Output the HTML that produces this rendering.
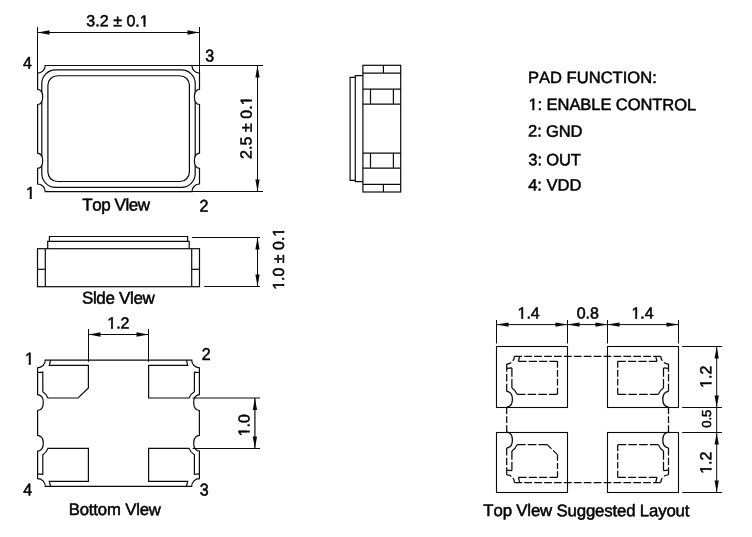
<!DOCTYPE html>
<html lang="en">
<head>
<meta charset="utf-8">
<title>Package Outline Drawing</title>
<style>
html,body{margin:0;padding:0;background:#fff;}
body{width:752px;height:537px;overflow:hidden;}
svg{display:block;will-change:transform;filter:grayscale(1);}
svg text{font-family:"Liberation Sans",Arial,Helvetica,sans-serif;font-kerning:none;text-rendering:geometricPrecision;fill:#000;stroke:#000;stroke-width:0.5px;stroke-linejoin:round;white-space:pre;}
</style>
</head>
<body>
<svg width="752" height="537" viewBox="0 0 752 537" stroke="#0a0a0a" fill="none" stroke-linecap="butt" stroke-linejoin="miter">
<rect x="0" y="0" width="752" height="537" fill="#fff" stroke="none"/>
<g id="top-view">
<rect x="41.8" y="69.8" width="153.4" height="117.6" rx="13.8" ry="13.8" fill="none" stroke-width="1.2"/>
<rect x="47.9" y="75.75" width="141.5" height="105.75" rx="9.5" ry="9.5" fill="none" stroke-width="1.2"/>
<path d="M36.6,89.3 L37.6,89.3 C42.19,89.8 42.7,93.1 42.7,96.9 C42.7,100.7 42.19,104 37.6,104.5 L36.6,104.5 Z" fill="#fff" stroke="none"/>
<path d="M200.5,89.3 L199.5,89.3 C194.91,89.8 194.4,93.1 194.4,96.9 C194.4,100.7 194.91,104 199.5,104.5 L200.5,104.5 Z" fill="#fff" stroke="none"/>
<path d="M36.6,153.2 L37.6,153.2 C42.19,153.7 42.7,157 42.7,160.8 C42.7,164.6 42.19,167.9 37.6,168.4 L36.6,168.4 Z" fill="#fff" stroke="none"/>
<path d="M200.5,153.2 L199.5,153.2 C194.91,153.7 194.4,157 194.4,160.8 C194.4,164.6 194.91,167.9 199.5,168.4 L200.5,168.4 Z" fill="#fff" stroke="none"/>
<path d="M45.2,65.5 L191.9,65.5 A7.6,7.6 0 0 0 199.5,73.1 L199.5,89.3 C194.91,89.8 194.4,93.1 194.4,96.9 C194.4,100.7 194.91,104 199.5,104.5 L199.5,153.2 C194.91,153.7 194.4,157 194.4,160.8 C194.4,164.6 194.91,167.9 199.5,168.4 L199.5,184 A7.6,7.6 0 0 0 191.9,191.6 L45.2,191.6 A7.6,7.6 0 0 0 37.6,184 L37.6,168.4 C42.19,167.9 42.7,164.6 42.7,160.8 C42.7,157 42.19,153.7 37.6,153.2 L37.6,104.5 C42.19,104 42.7,100.7 42.7,96.9 C42.7,93.1 42.19,89.8 37.6,89.3 L37.6,73.1 A7.6,7.6 0 0 0 45.2,65.5 Z" stroke-width="1.2" fill="none" />
<line x1="37.5" y1="27" x2="37.5" y2="73.1" stroke-width="1.0" />
<line x1="199.5" y1="27" x2="199.5" y2="73.1" stroke-width="1.0" />
<line x1="37.5" y1="32.5" x2="199.5" y2="32.5" stroke-width="1.0" />
<polygon points="37.5,32.5 49.5,30.35 49.5,34.65" fill="#0a0a0a" stroke="none"/>
<polygon points="199.5,32.5 187.5,30.35 187.5,34.65" fill="#0a0a0a" stroke="none"/>
<line x1="191.9" y1="65.5" x2="263" y2="65.5" stroke-width="1.0" />
<line x1="191.9" y1="191.5" x2="263" y2="191.5" stroke-width="1.0" />
<line x1="257.5" y1="65.5" x2="257.5" y2="191.5" stroke-width="1.0" />
<polygon points="257.5,65.5 255.35,77.5 259.65,77.5" fill="#0a0a0a" stroke="none"/>
<polygon points="257.5,191.5 255.35,179.5 259.65,179.5" fill="#0a0a0a" stroke="none"/>
<text font-size="16" letter-spacing="0.027" transform="translate(86.34,26.3) rotate(0.1)">3.2 ± 0.1</text>
<rect x="140.03" y="24.2" width="3.45" height="3" fill="#fff" stroke="none"/>
<rect x="145.6" y="24.2" width="3.33" height="3" fill="#fff" stroke="none"/>
<text font-size="16" letter-spacing="0.051" transform="translate(251.6,158.95) rotate(-89.9)">2.5 ± 0.1</text>
<rect x="249.5" y="101.61" width="3" height="3.45" fill="#fff" stroke="none"/>
<rect x="249.5" y="96.17" width="3" height="3.33" fill="#fff" stroke="none"/>
<text font-size="16" stroke-width="0.7" transform="translate(23,68.7) rotate(0.1) scale(1,1.07)">4</text>
<text font-size="16" stroke-width="0.7" transform="translate(205.35,61.5) rotate(0.1) scale(1,1.07)">3</text>
<text font-size="16" stroke-width="0.7" transform="translate(26.01,198.8) rotate(0.1) scale(1,1.07)">1</text>
<rect x="26.23" y="196.62" width="3.35" height="3.08" fill="#fff" stroke="none"/>
<rect x="31.9" y="196.62" width="3.23" height="3.08" fill="#fff" stroke="none"/>
<text font-size="16" stroke-width="0.7" transform="translate(199.6,211.8) rotate(0.1) scale(1,1.07)">2</text>
<text font-size="17" letter-spacing="-0.432" transform="translate(82.27,210.4) rotate(0.1)">Top View</text>
<rect x="126.35" y="199.36" width="1.99" height="2.24" fill="#000" stroke="none"/>
</g>
<g id="side-view">
<path d="M49.4,241.4 L49.4,236.5 L187.6,236.5 L187.6,241.4" stroke-width="1.2" fill="none" />
<path d="M47.7,248.7 L47.7,241.4 L189.2,241.4 L189.2,248.7" stroke-width="1.2" fill="none" />
<rect x="37.5" y="248.7" width="162" height="38" fill="none" stroke-width="1.2"/>
<line x1="45.3" y1="248.7" x2="45.3" y2="286.7" stroke-width="1.2" />
<line x1="191.7" y1="248.7" x2="191.7" y2="286.7" stroke-width="1.2" />
<line x1="37.5" y1="269.3" x2="45.3" y2="269.3" stroke-width="1.2" />
<line x1="191.7" y1="269.3" x2="199.5" y2="269.3" stroke-width="1.2" />
<line x1="192" y1="237.5" x2="260" y2="237.5" stroke-width="1.0" />
<line x1="204.3" y1="286.5" x2="260" y2="286.5" stroke-width="1.0" />
<line x1="257.5" y1="237.5" x2="257.5" y2="286.5" stroke-width="1.0" />
<polygon points="257.5,237.5 255.35,249.5 259.65,249.5" fill="#0a0a0a" stroke="none"/>
<polygon points="257.5,286.5 255.35,274.5 259.65,274.5" fill="#0a0a0a" stroke="none"/>
<text font-size="16" letter-spacing="-0.020" transform="translate(284,289.79) rotate(-89.9)">1.0 ± 0.1</text>
<rect x="281.9" y="286.12" width="3" height="3.45" fill="#fff" stroke="none"/>
<rect x="281.9" y="280.67" width="3" height="3.33" fill="#fff" stroke="none"/>
<rect x="281.9" y="233.01" width="3" height="3.45" fill="#fff" stroke="none"/>
<rect x="281.9" y="227.57" width="3" height="3.33" fill="#fff" stroke="none"/>
<text font-size="17" letter-spacing="-0.333" transform="translate(81.88,303.6) rotate(0.1)">Side View</text>
<rect x="93.77" y="292.56" width="1.99" height="2.24" fill="#000" stroke="none"/>
<rect x="130.85" y="292.56" width="1.99" height="2.24" fill="#000" stroke="none"/>
</g>
<g id="bottom-view">
<path d="M45.3,360.1 L191.7,360.1 A7.7,7.7 0 0 0 199.4,367.8 L199.4,394.7 C194.27,395.2 193.7,398.65 193.7,402.6 C193.7,406.55 194.27,410 199.4,410.5 L199.4,435.4 C194.27,435.9 193.7,439.35 193.7,443.3 C193.7,447.25 194.27,450.7 199.4,451.2 L199.4,478.6 A7.7,7.7 0 0 0 191.7,486.3 L45.3,486.3 A7.7,7.7 0 0 0 37.6,478.6 L37.6,451.2 C42.73,450.7 43.3,447.25 43.3,443.3 C43.3,439.35 42.73,435.9 37.6,435.4 L37.6,410.5 C42.73,410 43.3,406.55 43.3,402.6 C43.3,398.65 42.73,395.2 37.6,394.7 L37.6,367.8 A7.7,7.7 0 0 0 45.3,360.1 Z" stroke-width="1.2" fill="none" />
<path d="M50.6,360.1 L49.3,365.4 L88.4,365.4 L88.4,388 L78.1,398.0 L47.9,398.0 A11.6,11.6 0 0 0 42.8,391.7 L42.8,372.1 L37.6,372.5" stroke-width="1.2" fill="none" />
<path d="M186.4,360.1 L187.7,365.4 L148.6,365.4 L148.6,398.0 L189.1,398.0 A11.6,11.6 0 0 1 194.4,391.7 L194.4,372.1 L199.4,372.5" stroke-width="1.2" fill="none" />
<path d="M186.4,486.3 L187.7,481.4 L148.6,481.4 L148.6,448.4 L189.1,448.4 A11.6,11.6 0 0 0 194.4,454.7 L194.4,474.3 L199.4,473.9" stroke-width="1.2" fill="none" />
<path d="M50.6,486.3 L49.3,481.4 L88.4,481.4 L88.4,448.4 L47.9,448.4 A11.6,11.6 0 0 1 42.8,454.7 L42.8,474.3 L37.6,473.9" stroke-width="1.2" fill="none" />
<line x1="88.5" y1="329" x2="88.5" y2="361.8" stroke-width="1.0" />
<line x1="148.5" y1="329" x2="148.5" y2="361.8" stroke-width="1.0" />
<line x1="88.5" y1="334.5" x2="148.5" y2="334.5" stroke-width="1.0" />
<polygon points="88.5,334.5 100.5,332.35 100.5,336.65" fill="#0a0a0a" stroke="none"/>
<polygon points="148.5,334.5 136.5,332.35 136.5,336.65" fill="#0a0a0a" stroke="none"/>
<text font-size="16" transform="translate(107.26,328.6) rotate(0.1)">1.2</text>
<rect x="107.48" y="326.5" width="3.45" height="3" fill="#fff" stroke="none"/>
<rect x="113.05" y="326.5" width="3.33" height="3" fill="#fff" stroke="none"/>
<line x1="192.6" y1="398" x2="260" y2="398" stroke-width="1.0" />
<line x1="192.6" y1="448.5" x2="260" y2="448.5" stroke-width="1.0" />
<line x1="254.9" y1="398" x2="254.9" y2="448.5" stroke-width="1.2" />
<polygon points="254.9,398 252.75,410 257.05,410" fill="#0a0a0a" stroke="none"/>
<polygon points="254.9,448.5 252.75,436.5 257.05,436.5" fill="#0a0a0a" stroke="none"/>
<text font-size="16" transform="translate(249.4,436.28) rotate(-89.9)">1.0</text>
<rect x="247.3" y="432.6" width="3" height="3.45" fill="#fff" stroke="none"/>
<rect x="247.3" y="427.16" width="3" height="3.33" fill="#fff" stroke="none"/>
<text font-size="16" stroke-width="0.7" transform="translate(25.01,364.4) rotate(0.1) scale(1,1.07)">1</text>
<rect x="25.23" y="362.22" width="3.35" height="3.08" fill="#fff" stroke="none"/>
<rect x="30.9" y="362.22" width="3.23" height="3.08" fill="#fff" stroke="none"/>
<text font-size="16" stroke-width="0.7" transform="translate(201.8,360.1) rotate(0.1) scale(1,1.07)">2</text>
<text font-size="16" stroke-width="0.7" transform="translate(23.15,495.6) rotate(0.1) scale(1,1.07)">4</text>
<text font-size="16" stroke-width="0.7" transform="translate(199.65,495.4) rotate(0.1) scale(1,1.07)">3</text>
<text font-size="16.7" letter-spacing="-0.146" stroke-width="0.35" transform="translate(68.71,515) rotate(0.1)">Bottom View</text>
<rect x="137.16" y="504.15" width="1.82" height="2.2" fill="#000" stroke="none"/>
</g>
<g id="end-view">
<rect x="362.9" y="65.3" width="37.80" height="126.70" fill="none" stroke-width="1.2"/>
<line x1="362.9" y1="73.1" x2="400.7" y2="73.1" stroke-width="1.2" />
<line x1="362.9" y1="89.2" x2="400.7" y2="89.2" stroke-width="1.2" />
<line x1="362.9" y1="104.1" x2="400.7" y2="104.1" stroke-width="1.2" />
<line x1="362.9" y1="153.1" x2="400.7" y2="153.1" stroke-width="1.2" />
<line x1="362.9" y1="168.1" x2="400.7" y2="168.1" stroke-width="1.2" />
<line x1="362.9" y1="184.4" x2="400.7" y2="184.4" stroke-width="1.2" />
<line x1="383.4" y1="65.3" x2="383.4" y2="73.1" stroke-width="1.2" />
<line x1="383.4" y1="184.4" x2="383.4" y2="192" stroke-width="1.2" />
<line x1="370.5" y1="89.2" x2="370.5" y2="104.1" stroke-width="1.2" />
<line x1="370.5" y1="153.1" x2="370.5" y2="168.1" stroke-width="1.2" />
<line x1="393.4" y1="89.2" x2="393.4" y2="104.1" stroke-width="1.2" />
<line x1="393.4" y1="153.1" x2="393.4" y2="168.1" stroke-width="1.2" />
<path d="M362.9,75.6 L355.3,75.6 L355.3,181.6 L362.9,181.6" stroke-width="1.2" fill="none" />
<path d="M355.3,77.4 L350.1,77.4 L350.1,180.3 L355.3,180.3" stroke-width="1.2" fill="none" />
</g>
<g id="pad-function">
<text font-size="16.5" letter-spacing="0.044" transform="translate(527.9,82.9) rotate(0.1)">PAD FUNCTION:</text>
<text font-size="16.5" letter-spacing="-0.067" transform="translate(528.46,109.9) rotate(0.1)">1: ENABLE CONTROL</text>
<rect x="528.72" y="107.77" width="3.54" height="3.03" fill="#fff" stroke="none"/>
<rect x="534.42" y="107.77" width="3.41" height="3.03" fill="#fff" stroke="none"/>
<text font-size="16.5" letter-spacing="-0.118" transform="translate(528.12,136.6) rotate(0.1)">2: GND</text>
<text font-size="16.5" letter-spacing="-0.113" transform="translate(528.32,165.2) rotate(0.1)">3: OUT</text>
<text font-size="16.5" transform="translate(528.17,190.5) rotate(0.1)">4: VDD</text>
</g>
<g id="suggested-layout">
<rect x="496.5" y="346.5" width="71.00" height="61.00" fill="none" stroke-width="1.1"/>
<rect x="496.5" y="432.5" width="71.00" height="60.00" fill="none" stroke-width="1.1"/>
<rect x="607.5" y="346.5" width="71.00" height="61.00" fill="none" stroke-width="1.1"/>
<rect x="607.5" y="432.5" width="71.00" height="60.00" fill="none" stroke-width="1.1"/>
<line x1="496.5" y1="320" x2="496.5" y2="343.5" stroke-width="1.0" />
<line x1="567.5" y1="320" x2="567.5" y2="343.5" stroke-width="1.0" />
<line x1="607.5" y1="320" x2="607.5" y2="343.5" stroke-width="1.0" />
<line x1="678.5" y1="320" x2="678.5" y2="343.5" stroke-width="1.0" />
<line x1="496.5" y1="324.6" x2="678.5" y2="324.6" stroke-width="1.0" />
<polygon points="496.5,324.6 508.5,322.45 508.5,326.75" fill="#0a0a0a" stroke="none"/>
<polygon points="567.5,324.6 555.5,322.45 555.5,326.75" fill="#0a0a0a" stroke="none"/>
<polygon points="567.5,324.6 579.5,322.45 579.5,326.75" fill="#0a0a0a" stroke="none"/>
<polygon points="607.5,324.6 595.5,322.45 595.5,326.75" fill="#0a0a0a" stroke="none"/>
<polygon points="607.5,324.6 619.5,322.45 619.5,326.75" fill="#0a0a0a" stroke="none"/>
<polygon points="678.5,324.6 666.5,322.45 666.5,326.75" fill="#0a0a0a" stroke="none"/>
<text font-size="16" transform="translate(517.49,318.5) rotate(0.1)">1.4</text>
<rect x="517.71" y="316.4" width="3.45" height="3" fill="#fff" stroke="none"/>
<rect x="523.28" y="316.4" width="3.33" height="3" fill="#fff" stroke="none"/>
<text font-size="16" transform="translate(576.66,318.5) rotate(0.1)">0.8</text>
<text font-size="16" transform="translate(631.39,318.5) rotate(0.1)">1.4</text>
<rect x="631.61" y="316.4" width="3.45" height="3" fill="#fff" stroke="none"/>
<rect x="637.18" y="316.4" width="3.33" height="3" fill="#fff" stroke="none"/>
<line x1="682.2" y1="346.5" x2="722" y2="346.5" stroke-width="1.0" />
<line x1="682.2" y1="407.5" x2="722" y2="407.5" stroke-width="1.0" />
<line x1="682.2" y1="432.5" x2="722" y2="432.5" stroke-width="1.0" />
<line x1="682.2" y1="492.5" x2="722" y2="492.5" stroke-width="1.0" />
<line x1="716.7" y1="346.5" x2="716.7" y2="492.5" stroke-width="1.0" />
<polygon points="716.7,346.5 714.55,358.5 718.85,358.5" fill="#0a0a0a" stroke="none"/>
<polygon points="716.7,407.5 714.55,395.5 718.85,395.5" fill="#0a0a0a" stroke="none"/>
<polygon points="716.7,432.5 714.55,444.5 718.85,444.5" fill="#0a0a0a" stroke="none"/>
<polygon points="716.7,492.5 714.55,480.5 718.85,480.5" fill="#0a0a0a" stroke="none"/>
<text font-size="16" transform="translate(711.3,387.89) rotate(-89.9)">1.2</text>
<rect x="709.2" y="384.21" width="3" height="3.45" fill="#fff" stroke="none"/>
<rect x="709.2" y="378.77" width="3" height="3.33" fill="#fff" stroke="none"/>
<text font-size="13" stroke-width="0.4" transform="translate(711,427.77) rotate(-89.9)">0.5</text>
<text font-size="16" transform="translate(711.3,473.84) rotate(-89.9)">1.2</text>
<rect x="709.2" y="470.16" width="3" height="3.45" fill="#fff" stroke="none"/>
<rect x="709.2" y="464.72" width="3" height="3.33" fill="#fff" stroke="none"/>
<text font-size="16.8" letter-spacing="-0.160" transform="translate(483.37,516) rotate(0.1)">Top View Suggested Layout</text>
<rect x="528.27" y="505.09" width="1.98" height="2.21" fill="#000" stroke="none"/>
<g transform="translate(587.6,419.45) scale(1,-1) translate(-118.5,-423.2)">
<path d="M45.3,360.1 L191.7,360.1" stroke-width="1.25" stroke-dasharray="7.71 2.2"/>
<path d="M45.3,486.3 L191.7,486.3" stroke-width="1.25" stroke-dasharray="7.71 2.2"/>
<path d="M191.7,360.1 A7.7,7.7 0 0 0 199.4,367.8" stroke-width="1.25" stroke-dasharray="4.95 2.2"/>
<path d="M199.4,478.6 A7.7,7.7 0 0 0 191.7,486.3" stroke-width="1.25" stroke-dasharray="4.95 2.2"/>
<path d="M45.3,486.3 A7.7,7.7 0 0 0 37.6,478.6" stroke-width="1.25" stroke-dasharray="4.95 2.2"/>
<path d="M37.6,367.8 A7.7,7.7 0 0 0 45.3,360.1" stroke-width="1.25" stroke-dasharray="4.95 2.2"/>
<path d="M37.6,367.8 L37.6,394.7" stroke-width="1.25" stroke-dasharray="7.50 2.2"/>
<path d="M37.6,410.5 L37.6,435.4" stroke-width="1.25" stroke-dasharray="6.83 2.2"/>
<path d="M37.6,451.2 L37.6,478.6" stroke-width="1.25" stroke-dasharray="7.67 2.2"/>
<path d="M37.6,394.7 C42.73,395.2 43.3,398.65 43.3,402.6 C43.3,406.55 42.73,410 37.6,410.5" stroke-width="1.3"/>
<path d="M37.6,435.4 C42.73,435.9 43.3,439.35 43.3,443.3 C43.3,447.25 42.73,450.7 37.6,451.2" stroke-width="1.3"/>
<path d="M199.4,367.8 L199.4,394.7" stroke-width="1.25" stroke-dasharray="7.50 2.2"/>
<path d="M199.4,410.5 L199.4,435.4" stroke-width="1.25" stroke-dasharray="6.83 2.2"/>
<path d="M199.4,451.2 L199.4,478.6" stroke-width="1.25" stroke-dasharray="7.67 2.2"/>
<path d="M199.4,394.7 C194.27,395.2 193.7,398.65 193.7,402.6 C193.7,406.55 194.27,410 199.4,410.5" stroke-width="1.3"/>
<path d="M199.4,435.4 C194.27,435.9 193.7,439.35 193.7,443.3 C193.7,447.25 194.27,450.7 199.4,451.2" stroke-width="1.3"/>
<path d="M50.6,360.1 L49.3,365.4" stroke-width="1.25"/>
<path d="M49.3,365.4 L88.4,365.4" stroke-width="1.25" stroke-dasharray="8.13 2.2"/>
<path d="M88.4,365.4 L88.4,388" stroke-width="1.25" stroke-dasharray="6.07 2.2"/>
<path d="M88.4,388 L78.1,398" stroke-width="1.25" stroke-dasharray="6.08 2.2"/>
<path d="M78.1,398 L47.9,398" stroke-width="1.25" stroke-dasharray="8.60 2.2"/>
<path d="M47.9,398 A11.6,11.6 0 0 0 42.8,391.7" stroke-width="1.25"/>
<path d="M42.8,391.7 L42.8,372.1" stroke-width="1.25" stroke-dasharray="8.70 2.2"/>
<path d="M42.8,372.1 L37.6,372.5" stroke-width="1.25"/>
<path d="M186.6,360.1 L187.9,365.4" stroke-width="1.25"/>
<path d="M187.9,365.4 L148.6,365.4" stroke-width="1.25" stroke-dasharray="8.18 2.2"/>
<path d="M148.6,365.4 L148.6,398" stroke-width="1.25" stroke-dasharray="6.50 2.2"/>
<path d="M148.6,398 L189.3,398" stroke-width="1.25" stroke-dasharray="8.53 2.2"/>
<path d="M189.3,398 A11.6,11.6 0 0 1 194.4,391.7" stroke-width="1.25"/>
<path d="M194.4,391.7 L194.4,372.1" stroke-width="1.25" stroke-dasharray="8.70 2.2"/>
<path d="M194.4,372.1 L199.4,372.5" stroke-width="1.25"/>
<path d="M186.6,486.3 L187.9,481.4" stroke-width="1.25"/>
<path d="M187.9,481.4 L148.6,481.4" stroke-width="1.25" stroke-dasharray="8.18 2.2"/>
<path d="M148.6,481.4 L148.6,448.4" stroke-width="1.25" stroke-dasharray="6.60 2.2"/>
<path d="M148.6,448.4 L189.3,448.4" stroke-width="1.25" stroke-dasharray="8.53 2.2"/>
<path d="M189.3,448.4 A11.6,11.6 0 0 0 194.4,454.7" stroke-width="1.25"/>
<path d="M194.4,454.7 L194.4,474.7" stroke-width="1.25" stroke-dasharray="8.90 2.2"/>
<path d="M194.4,474.7 L199.4,474.3" stroke-width="1.25"/>
<path d="M50.6,486.3 L49.3,481.4" stroke-width="1.25"/>
<path d="M49.3,481.4 L88.4,481.4" stroke-width="1.25" stroke-dasharray="8.13 2.2"/>
<path d="M88.4,481.4 L88.4,448.4" stroke-width="1.25" stroke-dasharray="6.60 2.2"/>
<path d="M88.4,448.4 L47.9,448.4" stroke-width="1.25" stroke-dasharray="8.48 2.2"/>
<path d="M47.9,448.4 A11.6,11.6 0 0 1 42.8,454.7" stroke-width="1.25"/>
<path d="M42.8,454.7 L42.8,474.7" stroke-width="1.25" stroke-dasharray="8.90 2.2"/>
<path d="M42.8,474.7 L37.6,474.3" stroke-width="1.25"/>
</g>
</g>
</svg>
</body>
</html>
